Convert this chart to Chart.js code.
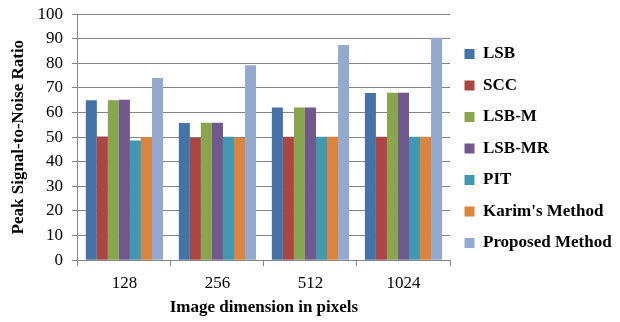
<!DOCTYPE html>
<html>
<head>
<meta charset="utf-8">
<script src="https://cdn.jsdelivr.net/npm/chart.js@4"></script>
<style>
  html, body { margin: 0; padding: 0; background: #fff; }
  .chart-container { width: 620px; height: 322px; }
</style>
</head>
<body>
<div class="chart-container">
  <canvas id="chart"></canvas>
</div>
<script>
const categories = ['128', '256', '512', '1024'];
const seriesNames = ['LSB', 'SCC', 'LSB-M', 'LSB-MR', 'PIT', "Karim's Method", 'Proposed Method'];
const lsb = [65, 55.8, 62, 67.9];
const scc = [50.3, 49.8, 50.2, 50.2];
const lsbM = [65, 55.9, 62, 68];
const lsbMR = [65.2, 55.9, 62, 68];
const pit = [48.6, 50.2, 50.2, 50.2];
const karim = [50.1, 49.8, 50.2, 50.2];
const proposed = [74, 79.2, 87.4, 90.4];
const colors = ['#4572A7', '#AA4643', '#89A54E', '#71588F', '#4198AF', '#DB843D', '#93A9CF'];

const values = [lsb, scc, lsbM, lsbMR, pit, karim, proposed];
const serif = "'Liberation Serif', 'Times New Roman', serif";

const ctx = document.getElementById('chart').getContext('2d');
new Chart(ctx, {
  type: 'bar',
  data: {
    labels: categories,
    datasets: seriesNames.map((name, i) => ({
      label: name,
      data: values[i],
      backgroundColor: colors[i],
      borderWidth: 0,
      barPercentage: 1,
      categoryPercentage: 0.83
    }))
  },
  options: {
    responsive: true,
    maintainAspectRatio: false,
    animation: false,
    layout: { padding: { top: 1, left: 8, right: 0, bottom: 4 } },
    plugins: {
      legend: {
        position: 'right',
        align: 'start',
        maxWidth: 170,
        // empty title only used as a spacer to push the items down
        title: { display: true, text: ' ', font: { size: 10 }, padding: { top: 18, bottom: 0 } },
        labels: {
          boxWidth: 10,
          boxHeight: 10,
          padding: 14.5,
          color: '#000',
          font: { family: serif, size: 17, weight: 'bold' }
        }
      },
      tooltip: { enabled: false }
    },
    scales: {
      x: {
        grid: {
          display: true,
          drawOnChartArea: false,
          drawTicks: true,
          tickLength: 6,
          color: '#868686'
        },
        border: { color: '#868686', width: 1 },
        ticks: { color: '#000', font: { family: serif, size: 17 }, padding: 7 },
        title: {
          display: true,
          text: 'Image dimension in pixels',
          color: '#000',
          font: { family: serif, size: 17, weight: 'bold' },
          padding: { top: -3, bottom: 0 }
        }
      },
      y: {
        min: 0,
        max: 100,
        // small lineHeight keeps the top label from pushing the plot down
        ticks: { stepSize: 10, autoSkip: false, color: '#000', font: { family: serif, size: 17, lineHeight: 0.6 }, padding: 9 },
        grid: { color: '#868686', tickLength: 6 },
        border: { color: '#868686', width: 1 },
        title: {
          display: true,
          text: 'Peak Signal-to-Noise Ratio',
          color: '#000',
          font: { family: serif, size: 17, weight: 'bold' },
          padding: { top: 0, bottom: 0 }
        }
      }
    }
  }
});
</script>
</body>
</html>
